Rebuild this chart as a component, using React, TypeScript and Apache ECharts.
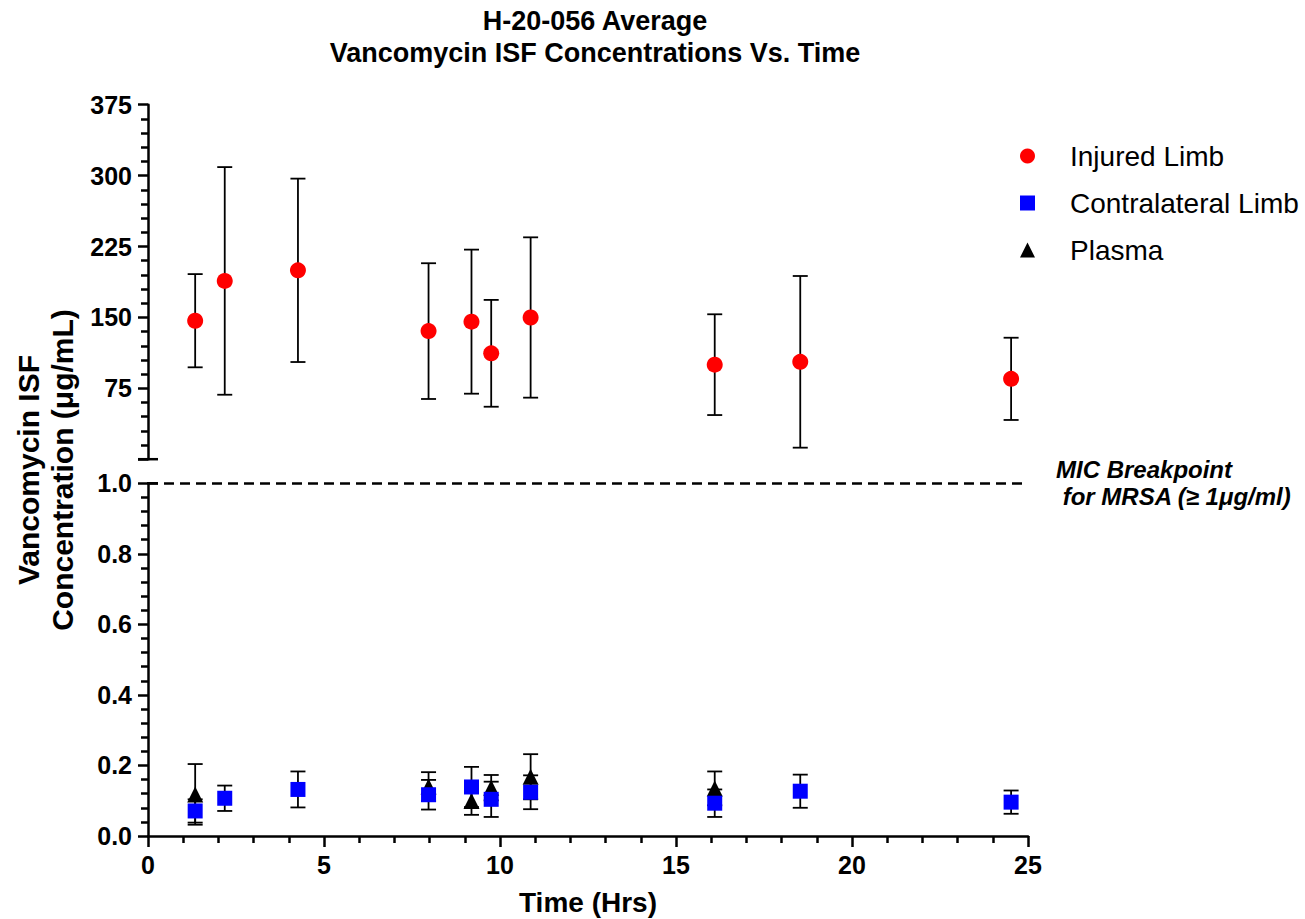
import React, { useEffect, useRef } from "react";
import * as echarts from "echarts";

// ---- Data ----
const injuredTime = [1.34, 2.18, 4.26, 7.97, 9.19, 9.75, 10.87, 16.1, 18.53, 24.52];
const injuredMean = [146.5, 188.6, 199.8, 135.5, 145.5, 112.0, 149.9, 100.0, 103.0, 85.0];
const injuredSD = [49.3, 120.4, 97.0, 71.8, 76.2, 56.5, 84.8, 53.3, 90.8, 43.5];

const contraTime = [1.34, 2.18, 4.26, 7.97, 9.19, 9.75, 10.87, 16.1, 18.53, 24.52];
const contraMean = [0.071, 0.107, 0.132, 0.117, 0.139, 0.104, 0.124, 0.093, 0.127, 0.096];
const contraSD = [0.033, 0.036, 0.051, 0.042, 0.057, 0.05, 0.048, 0.039, 0.047, 0.033];

const plasmaTime = [1.34, 7.97, 9.19, 9.75, 10.87, 16.1];
const plasmaMean = [0.118, 0.14, 0.099, 0.137, 0.168, 0.135];
const plasmaSD = [0.086, 0.041, 0.039, 0.036, 0.064, 0.048];

const seriesNames = ["Injured Limb", "Contralateral Limb", "Plasma"];
const titleLines = ["H-20-056 Average", "Vancomycin ISF Concentrations Vs. Time"];
const yTitleLines = ["Vancomycin ISF", "Concentration (μg/mL)"];
const xTitle = "Time (Hrs)";
const micLabel = ["MIC Breakpoint", " for MRSA (≥ 1μg/ml)"];
const micValue = 1.0;

const FONT = '"Liberation Sans", Arial, sans-serif';

const zip = (t: number[], m: number[]) => t.map((x, i) => [x, m[i]]);
const zip3 = (t: number[], m: number[], s: number[]) => t.map((x, i) => [x, m[i], s[i]]);

const errorRender = (params: any, api: any) => {
  const x = api.value(0);
  const m = api.value(1);
  const s = api.value(2);
  const top = api.coord([x, m + s]);
  const bot = api.coord([x, m - s]);
  const hw = 7.5;
  const style = { stroke: "#000", lineWidth: 1.8, fill: "none" };
  return {
    type: "group",
    children: [
      { type: "line", shape: { x1: top[0], y1: top[1], x2: bot[0], y2: bot[1] }, style },
      { type: "line", shape: { x1: top[0] - hw, y1: top[1], x2: top[0] + hw, y2: top[1] }, style },
      { type: "line", shape: { x1: bot[0] - hw, y1: bot[1], x2: bot[0] + hw, y2: bot[1] }, style },
    ],
  };
};

export default function App() {
  const ref = useRef<HTMLDivElement>(null);
  useEffect(() => {
    document.body.style.margin = "0";
    if (!ref.current) return;
    const chart = echarts.init(ref.current, undefined, { renderer: "svg" });

    const axisLine = { show: true, lineStyle: { color: "#000", width: 2.5 } };
    const labelStyle = { color: "#000", fontFamily: FONT, fontWeight: "bold" as const, fontSize: 25 };

    const gridLeft = 148;
    const gridRight = 1305 - 1028;

    chart.setOption({
      animation: false,
      backgroundColor: "#fff",
      title: {
        text: titleLines.join("\n"),
        left: 590,
        textAlign: "center",
        top: 0,
        textStyle: { fontFamily: FONT, fontWeight: "bold", fontSize: 27, lineHeight: 32, color: "#000" },
      },
      legend: {
        data: seriesNames,
        orient: "vertical",
        left: 1015,
        top: 136,
        itemWidth: 15,
        itemHeight: 15,
        itemGap: 17,
        textStyle: { fontFamily: FONT, fontSize: 28, color: "#000", padding: [0, 0, 0, 30], lineHeight: 30 },
      },
      grid: [
        { left: gridLeft, right: gridRight, top: 104.7, height: 354.5, outerBoundsMode: "none" },
        { left: gridLeft, right: gridRight, top: 483.3, height: 352.7, outerBoundsMode: "none" },
      ],
      xAxis: [
        { type: "value", gridIndex: 0, min: 0, max: 25, interval: 5, show: false },
        {
          type: "value",
          gridIndex: 1,
          min: 0,
          max: 25,
          interval: 5,
          axisLine,
          axisTick: { show: true, length: 11, lineStyle: { color: "#000", width: 2.5 } },
          minorTick: { show: true, splitNumber: 5, length: 7, lineStyle: { color: "#000", width: 2.5 } },
          splitLine: { show: false },
          axisLabel: { ...labelStyle, margin: 16 },
          name: xTitle,
          nameLocation: "middle",
          nameGap: 52,
          nameTextStyle: { fontFamily: FONT, fontWeight: "bold", fontSize: 28, color: "#000" },
        },
      ],
      yAxis: [
        {
          type: "value",
          gridIndex: 0,
          min: 0,
          max: 375,
          interval: 75,
          axisLine,
          axisTick: { show: true, length: 10, lineStyle: { color: "#000", width: 2.5 } },
          minorTick: { show: true, splitNumber: 5, length: 7, lineStyle: { color: "#000", width: 2.5 } },
          splitLine: { show: false },
          axisLabel: { ...labelStyle, margin: 16, formatter: (v: number) => (v === 0 ? "" : String(v)) },
        },
        {
          type: "value",
          gridIndex: 1,
          min: 0,
          max: 1,
          interval: 0.2,
          axisLine,
          axisTick: { show: true, length: 10, lineStyle: { color: "#000", width: 2.5 } },
          minorTick: { show: true, splitNumber: 5, length: 7, lineStyle: { color: "#000", width: 2.5 } },
          splitLine: { show: false },
          axisLabel: { ...labelStyle, margin: 16, formatter: (v: number) => v.toFixed(1) },
        },
      ],
      graphic: [
        {
          type: "text",
          x: 45,
          y: 470,
          rotation: Math.PI / 2,
          style: {
            text: yTitleLines.join("\n"),
            font: `bold 30px ${FONT}`,
            fill: "#000",
            align: "center",
            verticalAlign: "middle",
            lineHeight: 34,
          },
        },
        {
          type: "line",
          shape: { x1: 138, y1: 459.2, x2: 158, y2: 459.2 },
          style: { stroke: "#000", lineWidth: 2.5 },
        },
        {
          type: "line",
          shape: { x1: 147, y1: 483.3, x2: 158, y2: 483.3 },
          style: { stroke: "#000", lineWidth: 2.5 },
        },
      ],
      series: [
        {
          name: "errInjured",
          type: "custom",
          xAxisIndex: 0,
          yAxisIndex: 0,
          renderItem: errorRender,
          encode: { x: 0, y: 1 },
          data: zip3(injuredTime, injuredMean, injuredSD),
          z: 1,
          silent: true,
        },
        {
          name: seriesNames[0],
          type: "scatter",
          xAxisIndex: 0,
          yAxisIndex: 0,
          symbol: "circle",
          symbolSize: 16,
          itemStyle: { color: "#ff0000", opacity: 1 },
          data: zip(injuredTime, injuredMean),
          z: 3,
        },
        {
          name: "errPlasma",
          type: "custom",
          xAxisIndex: 1,
          yAxisIndex: 1,
          renderItem: errorRender,
          encode: { x: 0, y: 1 },
          data: zip3(plasmaTime, plasmaMean, plasmaSD),
          z: 1,
          silent: true,
        },
        {
          name: "errContra",
          type: "custom",
          xAxisIndex: 1,
          yAxisIndex: 1,
          renderItem: errorRender,
          encode: { x: 0, y: 1 },
          data: zip3(contraTime, contraMean, contraSD),
          z: 1,
          silent: true,
        },
        {
          name: seriesNames[2],
          type: "scatter",
          xAxisIndex: 1,
          yAxisIndex: 1,
          symbol: "triangle",
          symbolSize: 16,
          itemStyle: { color: "#000000", opacity: 1 },
          data: zip(plasmaTime, plasmaMean),
          z: 2,
        },
        {
          name: seriesNames[1],
          type: "scatter",
          xAxisIndex: 1,
          yAxisIndex: 1,
          symbol: "rect",
          symbolSize: 15,
          itemStyle: { color: "#0000ff", opacity: 1 },
          data: zip(contraTime, contraMean),
          z: 3,
          markLine: {
            silent: true,
            symbol: "none",
            data: [{ yAxis: micValue }],
            lineStyle: { type: [10, 6], color: "#000", width: 2.6 },
            label: {
              show: true,
              position: "end",
              distance: 28,
              formatter: micLabel.join("\n"),
              align: "left",
              fontFamily: FONT,
              fontWeight: "bold",
              fontStyle: "italic",
              fontSize: 24,
              lineHeight: 27,
              color: "#000",
              padding: [0, 0, 11, 0],
            },
          },
        },
      ],
    });
    return () => chart.dispose();
  }, []);
  return <div ref={ref} style={{ width: 1305, height: 919 }} />;
}
